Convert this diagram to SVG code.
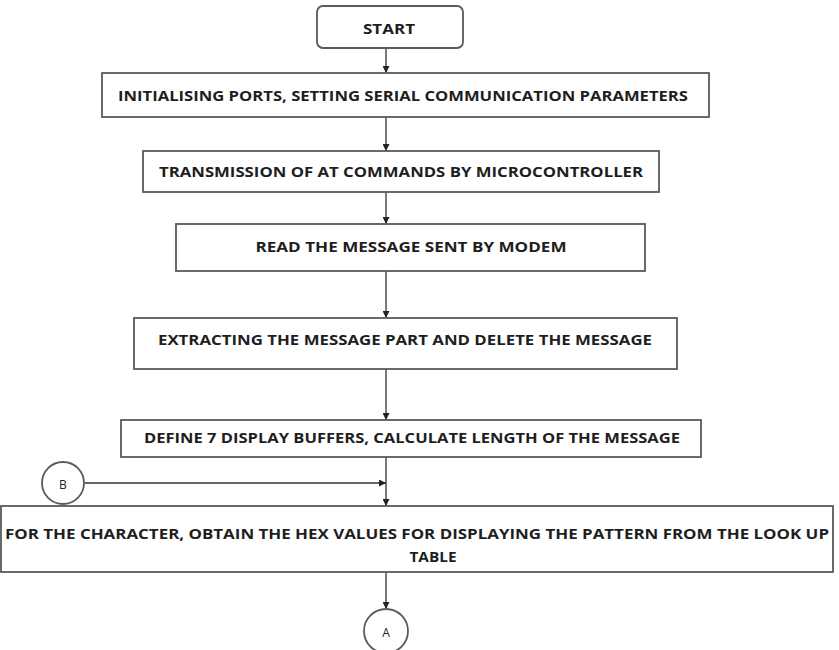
<svg xmlns="http://www.w3.org/2000/svg" width="839" height="650" viewBox="0 0 839 650">
<defs>
<style>
.box{fill:#fff;stroke:#5a5a5a;stroke-width:1.8}
.t{font-family:"Open Sans","Liberation Sans",sans-serif;font-weight:bold;font-size:14px;fill:#1e1e1e;text-anchor:middle;dominant-baseline:central}
.c{font-family:"Open Sans","Liberation Sans",sans-serif;font-size:12px;fill:#222;text-anchor:middle;dominant-baseline:central}
.ln{stroke:#333;stroke-width:1.3;fill:none}
</style>
<marker id="ah" viewBox="0 0 10 10" refX="10" refY="5" markerWidth="7" markerHeight="7" orient="auto" markerUnits="userSpaceOnUse">
<path d="M0,0 L10,5 L0,10 Z" fill="#222"/>
</marker>
</defs>
<rect width="839" height="650" fill="#fff"/>
<g id="connectors">
<line class="ln" x1="386" y1="48" x2="386" y2="73" marker-end="url(#ah)"/>
<line class="ln" x1="386" y1="117" x2="386" y2="151" marker-end="url(#ah)"/>
<line class="ln" x1="386" y1="192" x2="386" y2="224" marker-end="url(#ah)"/>
<line class="ln" x1="386" y1="271" x2="386" y2="318" marker-end="url(#ah)"/>
<line class="ln" x1="386" y1="369" x2="386" y2="420" marker-end="url(#ah)"/>
<line class="ln" x1="386" y1="457" x2="386" y2="506" marker-end="url(#ah)"/>
<line class="ln" x1="85" y1="483" x2="386" y2="483" marker-end="url(#ah)"/>
<line class="ln" x1="386" y1="572" x2="386" y2="609" marker-end="url(#ah)"/>
</g>
<g id="start">
<rect class="box" x="317" y="6" width="146" height="42" rx="6"/>
<text class="t" x="389" y="28" textLength="52" lengthAdjust="spacingAndGlyphs">START</text>
</g>
<g id="init">
<rect class="box" x="102" y="73" width="607" height="44"/>
<text class="t" x="403" y="95" textLength="570" lengthAdjust="spacingAndGlyphs">INITIALISING PORTS, SETTING SERIAL COMMUNICATION PARAMETERS</text>
</g>
<g id="transmit">
<rect class="box" x="143" y="151" width="516" height="41"/>
<text class="t" x="401" y="171" textLength="484" lengthAdjust="spacingAndGlyphs">TRANSMISSION OF AT COMMANDS BY MICROCONTROLLER</text>
</g>
<g id="read">
<rect class="box" x="176" y="224" width="469" height="47"/>
<text class="t" x="411" y="246" textLength="311" lengthAdjust="spacingAndGlyphs">READ THE MESSAGE SENT BY MODEM</text>
</g>
<g id="extract">
<rect class="box" x="134" y="318" width="543" height="51"/>
<text class="t" x="405" y="339" textLength="494" lengthAdjust="spacingAndGlyphs">EXTRACTING THE MESSAGE PART AND DELETE THE MESSAGE</text>
</g>
<g id="define">
<rect class="box" x="121" y="420" width="580" height="37"/>
<text class="t" x="412" y="437" textLength="536" lengthAdjust="spacingAndGlyphs">DEFINE 7 DISPLAY BUFFERS, CALCULATE LENGTH OF THE MESSAGE</text>
</g>
<g id="connB">
<circle class="box" cx="63" cy="483" r="21"/>
<text class="c" x="63" y="484">B</text>
</g>
<g id="lookup">
<rect class="box" x="1" y="506" width="832" height="66"/>
<text class="t" x="417" y="533" textLength="824" lengthAdjust="spacingAndGlyphs">FOR THE CHARACTER, OBTAIN THE HEX VALUES FOR DISPLAYING THE PATTERN FROM THE LOOK UP</text>
<text class="t" x="433" y="556" textLength="47" lengthAdjust="spacingAndGlyphs">TABLE</text>
</g>
<g id="connA">
<circle class="box" cx="386" cy="631" r="22"/>
<text class="c" x="386" y="632">A</text>
</g>
</svg>
